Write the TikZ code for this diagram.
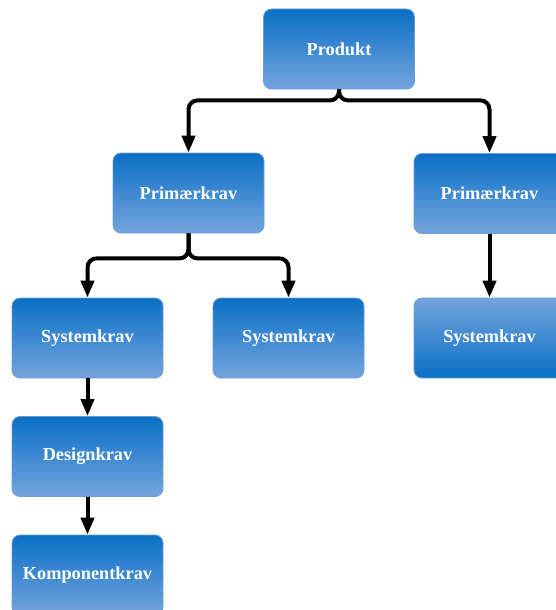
\documentclass[tikz,border=0pt]{standalone}
\usepackage{fontspec}
\setmainfont{Liberation Serif}
\usetikzlibrary{arrows.meta}
\definecolor{boxdark}{HTML}{0A70C6}
\definecolor{boxlight}{HTML}{74A3DC}
\definecolor{boxedge}{HTML}{6E9BD4}
\tikzset{
  reqbox/.style={rectangle, rounded corners=8pt, draw=boxedge, line width=0.8pt,
    top color=boxdark, bottom color=boxlight,
    minimum width=151pt, minimum height=80pt, inner sep=0pt,
    text=white, font=\fontsize{18.3}{21}\selectfont\bfseries},
  reqboxflip/.style={reqbox, top color=boxlight, bottom color=boxdark},
  link/.style={line width=4pt, rounded corners=9pt,
    -{Triangle[length=17pt,width=13pt]}}
}
\begin{document}
\begin{tikzpicture}[x=1pt,y=-1pt]
\useasboundingbox (0,0) rectangle (556,610);
\clip (0,0) rectangle (556,610);
% tree of requirement levels
\node[reqbox] (prod) at (339,49) {Produkt};
\node[reqbox] (primL) at (188.5,193) {Primærkrav};
\node[reqbox] (primR) at (489.5,193.5) {Primærkrav};
\node[reqbox] (sysL) at (87.5,338) {Systemkrav};
\node[reqbox] (sysM) at (288.5,338) {Systemkrav};
\node[reqboxflip] (sysR) at (489.5,338) {Systemkrav};
\node[reqbox] (design) at (87.5,456.5) {Designkrav};
\node[reqbox] (komp) at (87.5,575) {Komponentkrav};
% forks
\draw[link] (prod.south) -- ++(0,11) -| (primL.north);
\draw[link] (prod.south) -- ++(0,11) -| (primR.north);
\draw[link] (primL.south) -- ++(0,25) -| (sysL.north);
\draw[link] (primL.south) -- ++(0,25) -| (sysM.north);
% straight links
\draw[link] (primR.south) -- (sysR.north);
\draw[link] (sysL.south) -- (design.north);
\draw[link] (design.south) -- (komp.north);
\end{tikzpicture}
\end{document}
